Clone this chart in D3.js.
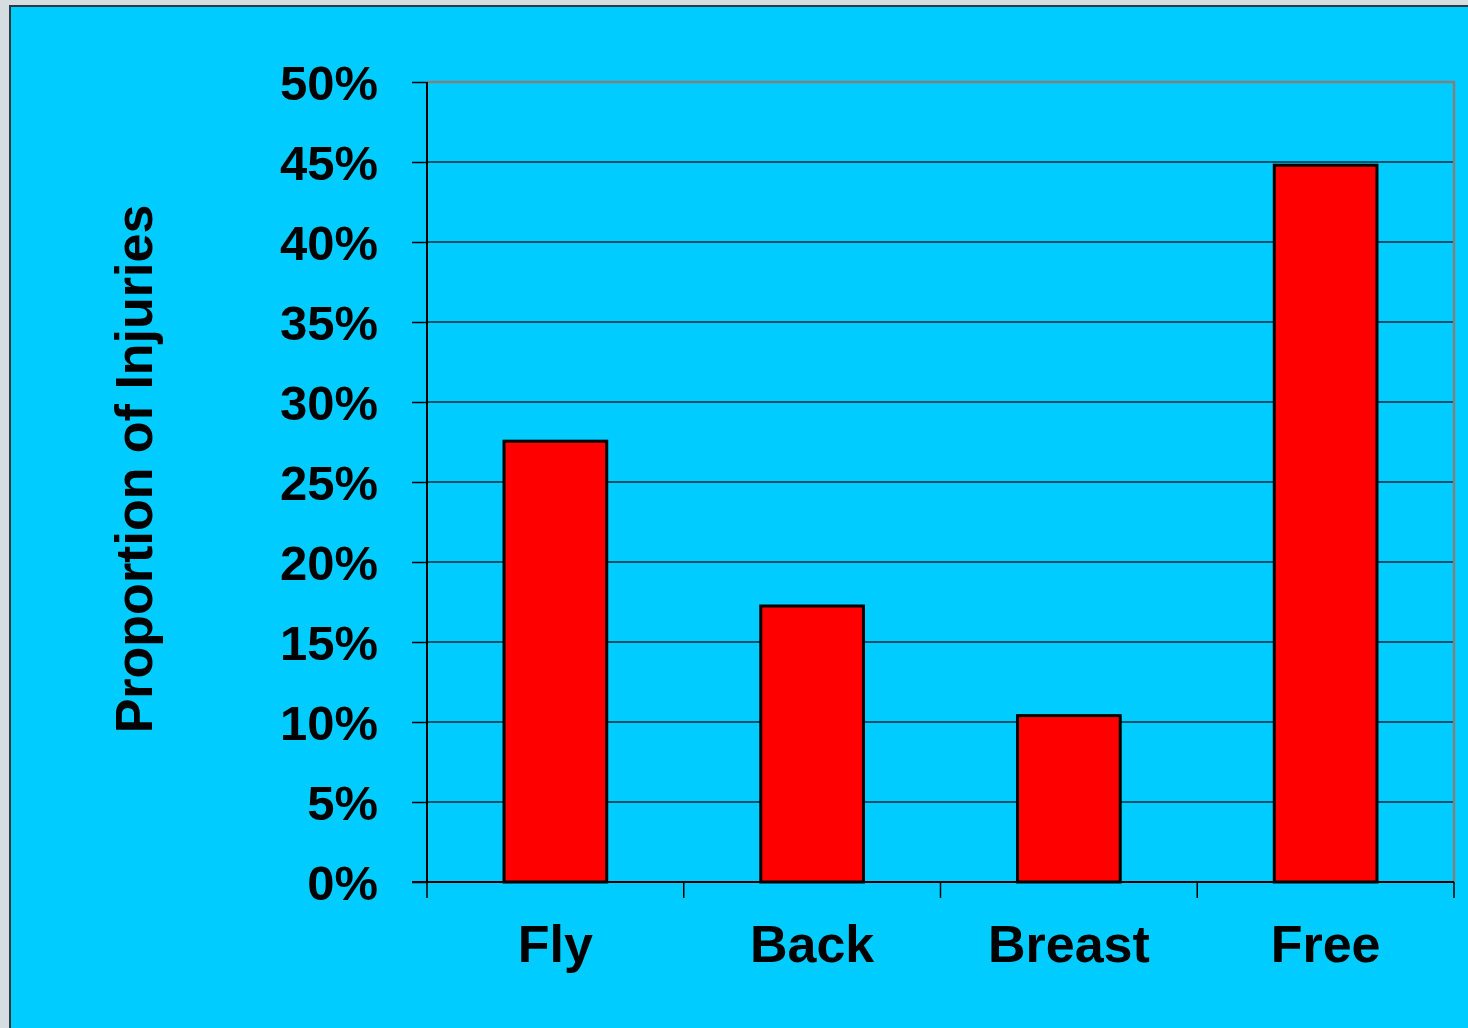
<!DOCTYPE html>
<html>
<head>
<meta charset="utf-8">
<script src="https://cdn.jsdelivr.net/npm/d3@7"></script>
<style>
  html, body { margin: 0; padding: 0; background: #d6dde1; }
  svg { display: block; }
</style>
</head>
<body>
<svg id="chart" width="1468" height="1028"></svg>
<script>
const categories = ["Fly", "Back", "Breast", "Free"];
const values = [0.2755, 0.1725, 0.104, 0.448];
const yTicks = [0, 0.05, 0.10, 0.15, 0.20, 0.25, 0.30, 0.35, 0.40, 0.45, 0.50];
const yTitle = "Proportion of Injuries";

const svg = d3.select("#chart");
const W = 1468, H = 1028;

// page background and cyan panel
svg.append("rect").attr("x", 0).attr("y", 0).attr("width", W).attr("height", H).attr("fill", "#d6dde1");
svg.append("rect").attr("x", 10).attr("y", 6).attr("width", W + 20).attr("height", H + 20)
  .attr("fill", "#00CCFF").attr("stroke", "#2b3a40").attr("stroke-width", 2);

const plot = { left: 427, right: 1454, top: 82, bottom: 882 };

const x = d3.scaleBand().domain(categories).range([plot.left, plot.right])
  .paddingInner(0.6).paddingOuter(0.3);
const y = d3.scaleLinear().domain([0, 0.5]).range([plot.bottom, plot.top]);

const g = svg.append("g");

// gridlines
g.selectAll("line.grid").data(yTicks.filter(d => d > 0 && d < 0.5)).join("line")
  .attr("class", "grid")
  .attr("x1", plot.left).attr("x2", plot.right)
  .attr("y1", d => y(d)).attr("y2", d => y(d))
  .attr("stroke", "#052c38").attr("stroke-width", 1.6);

// plot border (gray) top and right
g.append("path")
  .attr("d", `M${plot.left},${plot.top}H${plot.right}V${plot.bottom}`)
  .attr("fill", "none").attr("stroke", "#808080").attr("stroke-width", 2.5);

// bars
g.selectAll("rect.bar").data(categories).join("rect")
  .attr("class", "bar")
  .attr("x", d => x(d)).attr("width", x.bandwidth())
  .attr("y", (d, i) => y(values[i]))
  .attr("height", (d, i) => y(0) - y(values[i]))
  .attr("fill", "#FF0000").attr("stroke", "#000").attr("stroke-width", 3);

// y axis
const yAxis = d3.axisLeft(y).tickValues(yTicks).tickFormat(d3.format(".0%")).tickSize(15).tickPadding(34);
const ya = svg.append("g").attr("transform", `translate(${plot.left},0)`).call(yAxis);
ya.select(".domain").attr("stroke", "#000").attr("stroke-width", 2).attr("d", `M0,${plot.top}V${plot.bottom}`);
ya.selectAll(".tick line").attr("stroke", "#000").attr("stroke-width", 1.5);
ya.selectAll(".tick text")
  .attr("font-family", "Liberation Sans, Arial, sans-serif")
  .attr("font-weight", "bold").attr("font-size", 49).attr("fill", "#000").attr("dy", "0.36em");

// x axis
const xBounds = [plot.left].concat(categories.map(c => x(c) + x.bandwidth() + x.step() * x.paddingInner() / 2));
svg.append("line").attr("x1", plot.left - 15).attr("x2", plot.right)
  .attr("y1", plot.bottom).attr("y2", plot.bottom).attr("stroke", "#000").attr("stroke-width", 2);
svg.selectAll("line.xtick").data(xBounds).join("line").attr("class", "xtick")
  .attr("x1", d => d).attr("x2", d => d).attr("y1", plot.bottom).attr("y2", plot.bottom + 16)
  .attr("stroke", "#000").attr("stroke-width", 1.5);
svg.selectAll("text.xlab").data(categories).join("text").attr("class", "xlab")
  .attr("x", d => x(d) + x.bandwidth() / 2).attr("y", 962)
  .attr("text-anchor", "middle")
  .attr("font-family", "Liberation Sans, Arial, sans-serif")
  .attr("font-weight", "bold").attr("font-size", 52).attr("fill", "#000")
  .text(d => d);

// y title
svg.append("text")
  .attr("transform", `translate(152,469) rotate(-90)`)
  .attr("text-anchor", "middle")
  .attr("font-family", "Liberation Sans, Arial, sans-serif")
  .attr("font-weight", "bold").attr("font-size", 52).attr("fill", "#000")
  .text(yTitle);
</script>
</body>
</html>
